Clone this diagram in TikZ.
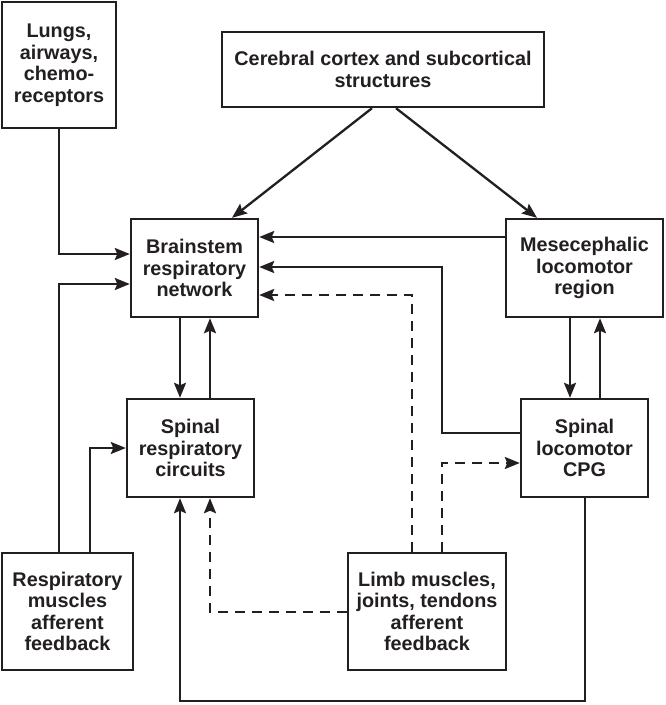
\documentclass[tikz,border=0pt]{standalone}
\usepackage{fontspec}
\setmainfont{Liberation Sans}
\usetikzlibrary{arrows.meta}
\definecolor{ink}{HTML}{231F20}
\begin{document}
\begin{tikzpicture}[x=1pt,y=-1pt,
  box/.style={draw=ink,line width=2.4pt,fill=white,align=center,inner sep=0pt,
    text=ink,font=\fontsize{19.8}{21.5}\selectfont\bfseries},
  arr/.style={draw=ink,line width=2.3pt,-{Stealth[length=15pt,width=12pt,inset=2.5pt]}},
  darr/.style={arr,dash pattern=on 10pt off 7pt}]
\useasboundingbox (0,0) rectangle (666,705);
% nodes
\node[box,minimum width=114pt,minimum height=126pt] (lungs) at (59,65) {Lungs,\\airways,\\chemo-\\receptors};
\node[box,minimum width=322pt,minimum height=75pt] (cereb) at (383,69.5) {Cerebral cortex and subcortical\\structures};
\node[box,minimum width=127pt,minimum height=98pt] (brain) at (194.5,268) {Brainstem\\respiratory\\network};
\node[box,minimum width=157pt,minimum height=98pt] (mes) at (584.5,268) {Mesecephalic\\locomotor\\region};
\node[box,minimum width=127pt,minimum height=98pt] (sresp) at (190.5,448) {Spinal\\respiratory\\circuits};
\node[box,minimum width=127pt,minimum height=98pt] (cpg) at (584.5,448) {Spinal\\locomotor\\CPG};
\node[box,minimum width=131pt,minimum height=117pt] (rmus) at (67.5,611.5) {Respiratory\\muscles\\afferent\\feedback};
\node[box,minimum width=158pt,minimum height=117pt] (limb) at (427,611.5) {Limb muscles,\\joints, tendons\\afferent\\feedback};
% helper coordinates
\coordinate (xa) at (180,0);
\coordinate (xb) at (210,0);
\coordinate (xc) at (570,0);
\coordinate (xd) at (600,0);
\coordinate (xe) at (585,0);
\coordinate (xf) at (442,0);
\coordinate (xg) at (412,0);
\coordinate (xh) at (59,0);
\coordinate (xi) at (90,0);
\coordinate (c1) at (372,0);
\coordinate (c2) at (232,0);
\coordinate (c3) at (396,0);
\coordinate (c4) at (537,0);
\coordinate (ya) at (0,254);
\coordinate (yb) at (0,284);
\coordinate (yc) at (0,237);
\coordinate (yd) at (0,267);
\coordinate (ye) at (0,295);
\coordinate (yf) at (0,463);
\coordinate (yg) at (0,433);
\coordinate (yh) at (0,448);
\coordinate (yi) at (0,612);
\coordinate (yj) at (0,701);
% connectors
\draw[arr] (lungs.south) |- (brain.west |- ya);
\draw[arr] (rmus.north -| xh) |- (brain.west |- yb);
\draw[arr] (rmus.north -| xi) |- (sresp.west |- yh);
\draw[arr] (cereb.south -| c1) -- (brain.north -| c2);
\draw[arr] (cereb.south -| c3) -- (mes.north -| c4);
\draw[arr] (mes.west |- yc) -- (brain.east |- yc);
\draw[arr] (cpg.west |- yg) -| (xf |- yd) -- (brain.east |- yd);
\draw[darr] (limb.north -| xg) |- (brain.east |- ye);
\draw[darr] (limb.north -| xf) |- (cpg.west |- yf);
\draw[darr] (limb.west |- yi) -| (sresp.south -| xb);
\draw[arr] (brain.south -| xa) -- (sresp.north -| xa);
\draw[arr] (sresp.north -| xb) -- (brain.south -| xb);
\draw[arr] (mes.south -| xc) -- (cpg.north -| xc);
\draw[arr] (cpg.north -| xd) -- (mes.south -| xd);
\draw[arr] (cpg.south -| xe) |- (xa |- yj) -- (sresp.south -| xa);
\end{tikzpicture}
\end{document}
